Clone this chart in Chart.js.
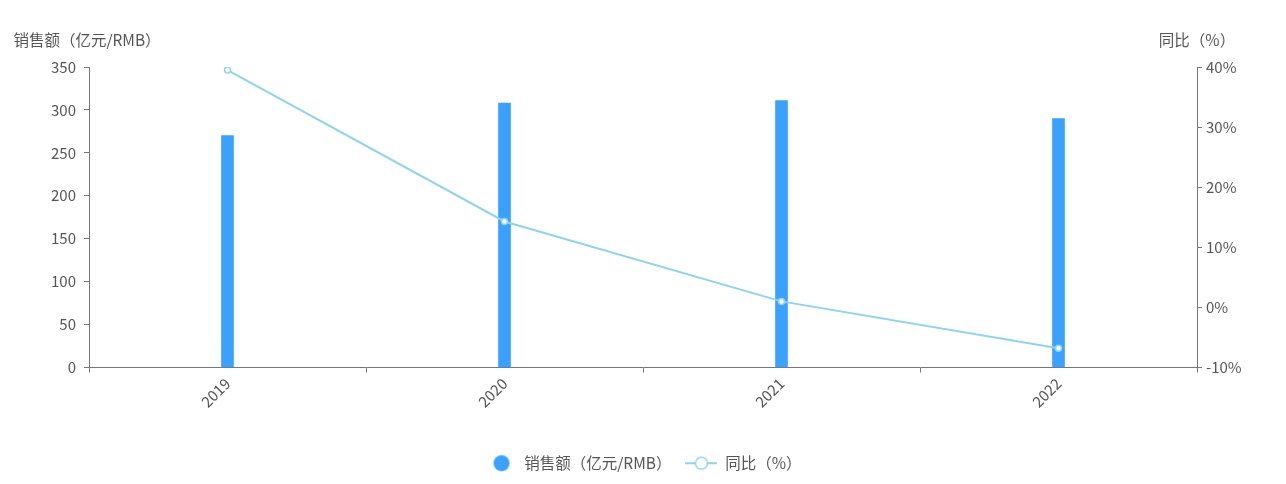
<!DOCTYPE html>
<html>
<head>
<meta charset="utf-8">
<script src="https://cdn.jsdelivr.net/npm/chart.js@4"></script>
<style>
  html, body { margin: 0; padding: 0; background: #fff; }
  #wrap { width: 1286px; height: 484px; position: relative; }
</style>
</head>
<body>
<div id="wrap"><canvas id="salesChart"></canvas></div>
<script>
const years = ['2019', '2020', '2021', '2022'];
const salesValues = [270, 308, 311, 290];
const yoyValues = [39.5, 14.3, 1.0, -6.8];
const salesTicks = [0, 50, 100, 150, 200, 250, 300, 350];
const yoyTicks = [-10, 0, 10, 20, 30, 40];

const salesLabel = '销售额（亿元/RMB）';
const yoyLabel = '同比（%）';
const barColor = '#3ba1ff';
const lineColor = '#8fd3ec';
const textColor = '#555';
const axisColor = '#777';

Chart.defaults.font.family = '"Noto Sans CJK SC", "Noto Sans", sans-serif';
Chart.defaults.font.size = 15;
Chart.defaults.color = textColor;

// legend icons
function makeBarIcon() {
  const c = document.createElement('canvas');
  c.width = 32; c.height = 18;
  const g = c.getContext('2d');
  g.fillStyle = barColor;
  g.beginPath();
  g.arc(17, 9, 8, 0, Math.PI * 2);
  g.fill();
  return c;
}
function makeLineIcon() {
  const c = document.createElement('canvas');
  c.width = 32; c.height = 18;
  const g = c.getContext('2d');
  g.strokeStyle = lineColor;
  g.lineWidth = 2;
  g.beginPath();
  g.moveTo(0, 9); g.lineTo(32, 9);
  g.stroke();
  g.fillStyle = '#fff';
  g.lineWidth = 1.5;
  g.beginPath();
  g.arc(16, 9, 6, 0, Math.PI * 2);
  g.fill();
  g.stroke();
  return c;
}
const barIcon = makeBarIcon();
const lineIcon = makeLineIcon();

// axis titles above the two y axes
const axisTitles = {
  id: 'axisTitles',
  afterDraw(chart) {
    const ctx = chart.ctx;
    const area = chart.chartArea;
    ctx.save();
    ctx.font = '15.5px "Noto Sans CJK SC", sans-serif';
    ctx.fillStyle = textColor;
    ctx.textAlign = 'center';
    ctx.textBaseline = 'middle';
    ctx.fillText(salesLabel, area.left - 2, area.top - 27);
    ctx.fillText(yoyLabel, area.right, area.top - 27);
    ctx.restore();
  }
};

const ctx = document.getElementById('salesChart').getContext('2d');
const salesChart = new Chart(ctx, {
  data: {
    labels: years,
    datasets: [{
      type: 'line',
      label: yoyLabel,
      data: yoyValues,
      yAxisID: 'y1',
      borderColor: lineColor,
      borderWidth: 2,
      tension: 0,
      pointRadius: 3,
      pointBackgroundColor: '#fff',
      pointBorderColor: lineColor,
      pointBorderWidth: 1.5,
      order: 0
    }, {
      type: 'bar',
      label: salesLabel,
      data: salesValues,
      yAxisID: 'y',
      backgroundColor: barColor,
      barThickness: 12,
      order: 1
    }]
  },
  options: {
    responsive: true,
    maintainAspectRatio: false,
    animation: false,
    layout: { padding: { top: 67, left: 0, right: 0, bottom: 3 } },
    plugins: {
      tooltip: { enabled: false },
      legend: {
        position: 'bottom',
        labels: {
          usePointStyle: true,
          pointStyleWidth: 32,
          boxHeight: 14,
          padding: 14,
          color: textColor,
          font: { size: 15.5 },
          generateLabels: function() {
            return [
              { text: salesLabel, pointStyle: barIcon, fillStyle: barColor, strokeStyle: barColor, lineWidth: 0, datasetIndex: 1, fontColor: textColor },
              { text: yoyLabel, pointStyle: lineIcon, fillStyle: '#fff', strokeStyle: lineColor, lineWidth: 0, datasetIndex: 0, fontColor: textColor }
            ];
          }
        }
      }
    },
    scales: {
      x: {
        offset: true,
        grid: { display: true, offset: true, drawOnChartArea: false, tickLength: 5, color: axisColor },
        border: { display: true, color: axisColor },
        ticks: { minRotation: 45, maxRotation: 45, padding: 2, color: textColor },
        afterFit: function(scale) { scale.height = 74; }
      },
      y: {
        position: 'left',
        min: 0,
        max: 350,
        grid: { display: true, drawOnChartArea: false, tickLength: 5, color: axisColor },
        border: { display: true, color: axisColor },
        afterBuildTicks: function(scale) { scale.ticks = salesTicks.map(v => ({ value: v })); },
        ticks: { padding: 8, color: textColor },
        afterFit: function(scale) { scale.width = 89; }
      },
      y1: {
        position: 'right',
        min: -10,
        max: 40,
        grid: { display: true, drawOnChartArea: false, tickLength: 5, color: axisColor },
        border: { display: true, color: axisColor },
        afterBuildTicks: function(scale) { scale.ticks = yoyTicks.map(v => ({ value: v })); },
        ticks: { padding: 4, color: textColor, callback: function(v) { return v + '%'; } },
        afterFit: function(scale) { scale.width = 89; }
      }
    }
  },
  plugins: [axisTitles]
});
</script>
</body>
</html>
